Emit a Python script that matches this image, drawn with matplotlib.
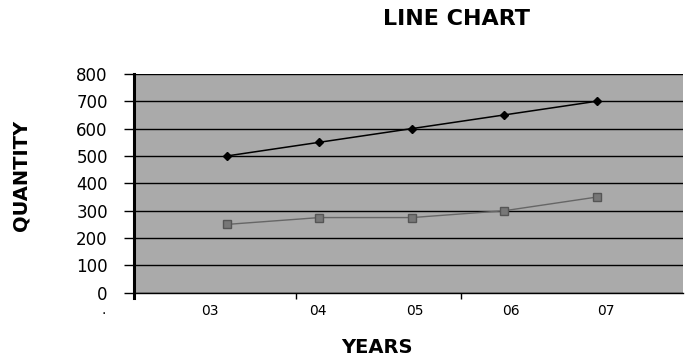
import matplotlib
matplotlib.use('Agg')
import matplotlib.pyplot as plt

# data
years = ['03', '04', '05', '06', '07']
series_a = [500, 550, 600, 650, 700]
series_b = [250, 275, 275, 300, 350]
y_ticks = [0, 100, 200, 300, 400, 500, 600, 700, 800]

narrow = ['Liberation Sans Narrow', 'DejaVu Sans']

fig = plt.figure(figsize=(6.85, 3.62), dpi=100)
ax = fig.add_axes([0.196, 0.191, 0.801, 0.605])
ax.set_facecolor('#aaaaaa')

x = [1, 2, 3, 4, 5]
ax.plot(x, series_a, color='black', lw=1.1, marker='D', ms=4.5, mfc='black', mec='black')
ax.plot(x, series_b, color='#666666', lw=1.0, marker='s', ms=6, mfc='#777777', mec='#555555')

ax.set_yticks(y_ticks)
ax.set_yticklabels([str(v) for v in y_ticks], fontsize=12, family='DejaVu Sans')
ax.tick_params(axis='y', direction='out', length=7, width=1, pad=12)
ax.yaxis.grid(True, color='black', lw=1)
ax.set_axisbelow(True)

# category labels sit a little off the points, like the original
ax.set_xticks([0.82, 1.98, 3.03, 4.07, 5.1])
ax.set_xticklabels(years, fontsize=10, family=narrow)
ax.tick_params(axis='x', length=0, pad=8)
ax.set_xticks([1.75, 3.53], minor=True)
ax.tick_params(axis='x', which='minor', direction='out', length=4, width=1)
ax.text(-0.33, -0.045, '.', transform=ax.get_xaxis_transform(), ha='center', va='top',
        fontsize=10, clip_on=False)

ax.set_xlim(0, 5.93)
ax.set_ylim(0, 800)

for s in ['top', 'right']:
    ax.spines[s].set_visible(False)
ax.spines['left'].set_linewidth(2.2)
ax.spines['left'].set_bounds(-18, 800)
ax.spines['bottom'].set_linewidth(1)

fig.text(0.667, 0.948, 'LINE CHART', ha='center', va='center',
         fontsize=16, fontweight='bold', family='DejaVu Sans')
fig.text(0.55, 0.04, 'YEARS', ha='center', va='center',
         fontsize=14, fontweight='bold', family='DejaVu Sans')
fig.text(0.03, 0.515, 'QUANTITY', ha='center', va='center', rotation=90,
         fontsize=14, fontweight='bold', family=narrow)

fig.savefig('out.png', dpi=100)
